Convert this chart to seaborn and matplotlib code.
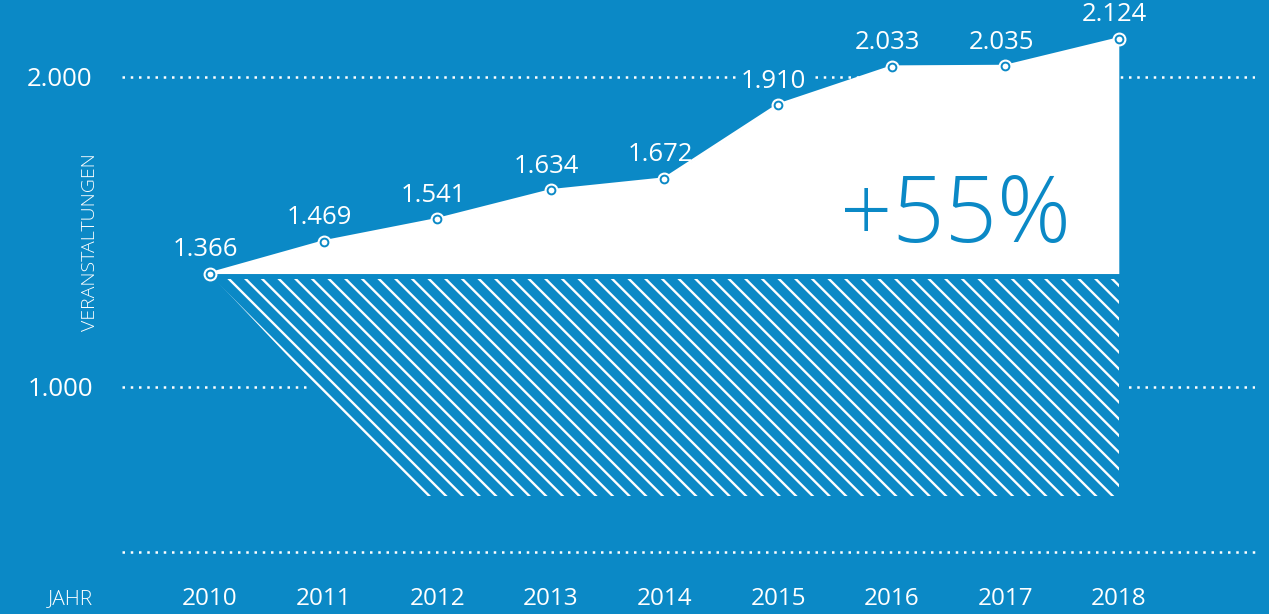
import matplotlib
matplotlib.use("Agg")
import matplotlib.pyplot as plt
import seaborn as sns
import pandas as pd
import numpy as np

# ---- data ----
years = [2010, 2011, 2012, 2013, 2014, 2015, 2016, 2017, 2018]
events = [1366, 1469, 1541, 1634, 1672, 1910, 2033, 2035, 2124]
ytick_values = [1000, 2000]
ylabel_text = "VERANSTALTUNGEN"
xlabel_text = "JAHR"

BLUE = "#0b89c6"
WHITE = "#ffffff"

def de_fmt(v):
    return f"{v:,.0f}".replace(",", ".")

sns.set_style("white", rc={"axes.facecolor": BLUE, "figure.facecolor": BLUE})
plt.rcParams["font.family"] = ["Open Sans", "DejaVu Sans"]
plt.rcParams["hatch.linewidth"] = 1.7

df = pd.DataFrame({"year": years, "events": events})

fig = plt.figure(figsize=(12.69, 6.14), dpi=100, facecolor=BLUE)
W, H = 1269, 614
ax = fig.add_axes([122 / W, (H - 552) / H, (1255 - 122) / W, 552 / H])
ax.set_facecolor(BLUE)

# scale (2010 at ~210 px, 113.6 px per year; 0.31 px per event, 2000 at 77 px)
px_per_year = 113.6
ax.set_xlim(2010 - 88 / px_per_year, 2018 + (1255 - 122 - 88 - 8 * px_per_year) / px_per_year)
ax.set_ylim(2000 - 475 / 0.31, 2000 + 77 / 0.31)

dots = (0, (1, 2.3))
ax.set_yticks(ytick_values)
ax.set_yticklabels([de_fmt(v) for v in ytick_values])
ax.set_xticks(years)
ax.set_xticklabels([str(y) for y in years])
ax.grid(axis="y", color=WHITE, linestyle=dots, linewidth=1.8, zorder=1)
ax.grid(axis="x", visible=False)
ax.set_axisbelow(True)
for side in ["top", "left", "right", "bottom"]:
    ax.spines[side].set_visible(False)
ax.plot([0, 1], [0, 0], color=WHITE, linestyle=dots, linewidth=1.8,
        transform=ax.transAxes, clip_on=False, zorder=1)
ax.tick_params(axis="both", length=0, colors=WHITE)
ax.tick_params(axis="y", pad=21, labelsize=18.5)
ax.tick_params(axis="x", pad=25, labelsize=17.5)

# hatched decoration below the start level
base = events[0]
gap = 19
depth = 700
slant = 1.85
top = base - gap
bot = top - depth
xs = [years[0] + 0.04, years[-1], years[-1], years[0] + slant]
ys = [top, top, bot, bot]
ax.fill(xs, ys, facecolor=BLUE, edgecolor=BLUE, linewidth=10, zorder=2)
ax.fill(xs, ys, facecolor="none", edgecolor=WHITE, linewidth=0, hatch="\\\\", zorder=2.5)

# white area above start level
ax.fill_between(df["year"], df["events"], base, color=WHITE, linewidth=0, zorder=3)
sns.lineplot(data=df, x="year", y="events", color=WHITE, linewidth=2, ax=ax, zorder=4)
ax.set_xlabel("")
ax.set_ylabel("")

# markers: white outer ring, blue ring, white centre
ax.plot(df["year"], df["events"], linestyle="none", marker="o", markersize=9,
        markerfacecolor=WHITE, markeredgecolor=WHITE, zorder=5)
ax.plot(df["year"], df["events"], linestyle="none", marker="o", markersize=5.6,
        markerfacecolor=WHITE, markeredgecolor=BLUE, markeredgewidth=1.4, zorder=6)

for x, v in zip(years, events):
    ax.annotate(de_fmt(v), (x, v), xytext=(-3, 12.5), textcoords="offset points",
                ha="center", va="baseline", color=WHITE, fontsize=18.5, zorder=2.8,
                bbox=dict(boxstyle="square,pad=0.15", facecolor=BLUE, edgecolor="none"))

growth = round((events[-1] / events[0] - 1) * 100)
fig.text(955 / W, 1 - 242 / H, f"+{growth}%", ha="center", va="baseline",
         color=BLUE, fontsize=66, fontweight="light", zorder=8)

fig.text(90 / W, 1 - 242 / H, ylabel_text, rotation=90, ha="center", va="center",
         color=WHITE, fontsize=14, fontweight="light")
fig.text(70 / W, 1 - 599 / H, xlabel_text, ha="center", va="center",
         color=WHITE, fontsize=15, fontweight="light")

fig.savefig("out.png", dpi=100, facecolor=BLUE)
